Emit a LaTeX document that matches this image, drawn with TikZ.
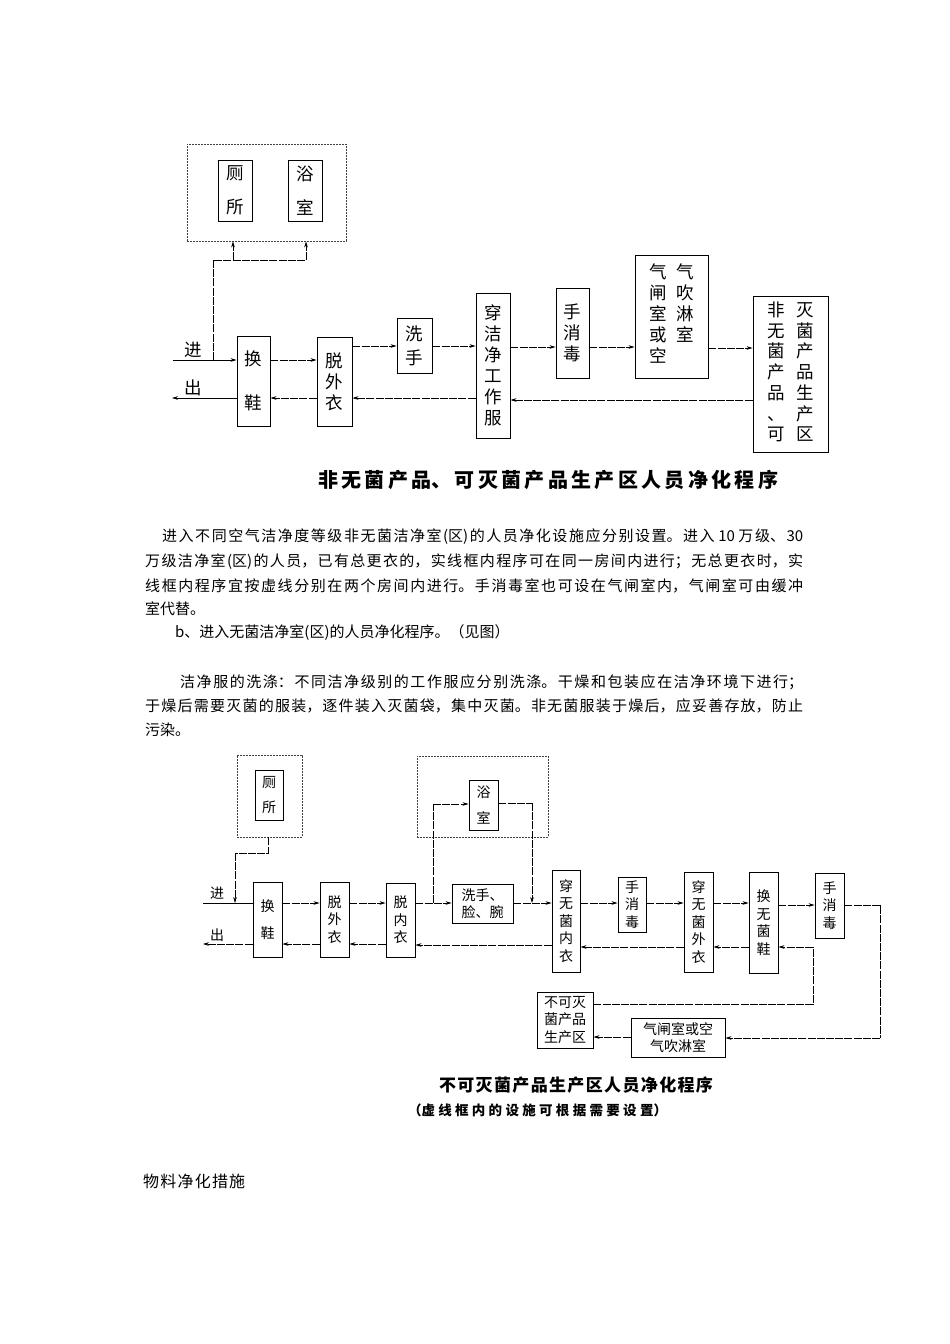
\documentclass[tikz,border=0pt]{standalone}
\usepackage{fontspec}
\setmainfont{Noto Sans CJK SC}
\usetikzlibrary{arrows.meta}
\newcommand\jst[2]{\parbox{#1}{\XeTeXlinebreaklocale "zh"\XeTeXlinebreakskip=0pt plus 12pt\relax\parfillskip=0pt\relax\rightskip=0pt\relax\leftskip=0pt\relax\noindent #2\par}}
\tikzset{
  box/.style={draw, line width=0.9pt, inner sep=0pt, align=center},
  dbox/.style={draw, black!75, dash pattern=on 1.6pt off 1.4pt, line width=0.8pt, inner sep=0pt},
  conn/.style={line width=0.6pt, dash pattern=on 8pt off 1.2pt},
  arr/.style={conn, -{Stealth[length=6pt,width=3.6pt]}},
  ta/.style={font=\fontsize{17.5}{21}\selectfont},
  tb/.style={font=\fontsize{14}{17.5}\selectfont},
  para/.style={font=\fontsize{15}{18}\selectfont, anchor=west, inner sep=0pt},
}
\begin{document}
\begin{tikzpicture}[x=1pt,y=-1pt]
\useasboundingbox[fill=white] (0,0) rectangle (950,1344);

% ================= top diagram =================
\node[dbox, minimum width=159pt, minimum height=97pt] (dash1) at (266.5,192.5) {};
\node[box, ta, minimum width=34pt, minimum height=61pt] (cesuo1) at (235,190.5) {厕\\[13pt]所};
\node[box, ta, minimum width=34pt, minimum height=61pt] (yushi1) at (305,190.5) {浴\\[13pt]室};
\node[box, ta, minimum width=33pt, minimum height=90pt] (huanxie1) at (253.5,381) {换\\[23pt]鞋};
\node[box, ta, minimum width=35pt, minimum height=89pt] (tuowai1) at (334.5,381.5) {脱\\外\\衣};
\node[box, ta, minimum width=35pt, minimum height=55pt] (xishou1) at (414.5,345.5) {洗\\[3pt]手};
\node[box, ta, minimum width=34pt, minimum height=145pt] (chuan1) at (493,365.5) {穿\\洁\\净\\工\\作\\服};
\node[box, ta, minimum width=33pt, minimum height=90pt] (shouxiao1) at (572.5,333) {手\\消\\毒};
\node[box, minimum width=73pt, minimum height=123pt] (qizha1) at (671.5,316.5)
  {\fontsize{17.5}{20.5}\selectfont\begin{tabular}{@{}c@{\hspace{9pt}}c@{}}气&气\\闸&吹\\室&淋\\或&室\\空&\end{tabular}};
\node[box, minimum width=75pt, minimum height=156pt] (zone1) at (790.5,374)
  {\fontsize{17.5}{20}\selectfont\begin{tabular}{@{}c@{\hspace{12pt}}c@{}}非&灭\\无&菌\\菌&产\\产&品\\品&生\\、&产\\可&区\end{tabular}};

\coordinate (in1) at (173,360);
\coordinate (out1) at (172,398);
\coordinate (br1) at (213,360);
\coordinate (br2) at (213,260);
\coordinate (br3) at (306,260);
\coordinate (br4) at (233,260);
\node[ta, inner sep=0pt] (jin1) at (193,350) {进};
\node[ta, inner sep=0pt] (chu1) at (193,388) {出};

\draw[arr, solid] (in1) -- (huanxie1.west |- in1);
\draw[arr, solid] (huanxie1.west |- out1) -- (out1);
\draw[conn] (br1) -- (br2) -- (br3);
\draw[arr] (br4) -- (dash1.south -| br4);
\draw[arr] (br3) -- (dash1.south -| br3);

\draw[arr] (huanxie1.east |- 0,360) -- (tuowai1.west |- 0,360);
\draw[arr] (tuowai1.east |- 0,346) -- (xishou1.west |- 0,346);
\draw[arr] (xishou1.east |- 0,346) -- (chuan1.west |- 0,346);
\draw[arr] (chuan1.east |- 0,347) -- (shouxiao1.west |- 0,347);
\draw[arr] (shouxiao1.east |- 0,347) -- (qizha1.west |- 0,347);
\draw[arr] (qizha1.east |- 0,348) -- (zone1.west |- 0,348);
\draw[arr] (zone1.west |- 0,400) -- (chuan1.east |- 0,400);
\draw[arr] (chuan1.west |- 0,398) -- (tuowai1.east |- 0,398);
\draw[arr] (tuowai1.west |- 0,398) -- (huanxie1.east |- 0,398);

\node[inner sep=0pt, font=\fontsize{20}{23}\selectfont\bfseries] (title1) at (548,480) {\jst{460pt}{非无菌产品、可灭菌产品生产区人员净化程序}};

% ================= paragraphs =================
\node[para] (p1) at (162,537) {\jst{641pt}{进入不同空气洁净度等级非无菌洁净室(区)的人员净化设施应分别设置。进入 10 万级、30}};
\node[para] (p2) at (145,562) {\jst{658pt}{万级洁净室(区)的人员，已有总更衣的，实线框内程序可在同一房间内进行；无总更衣时，实}};
\node[para] (p3) at (145,586) {\jst{658pt}{线框内程序宜按虚线分别在两个房间内进行。手消毒室也可设在气闸室内，气闸室可由缓冲}};
\node[para] (p4) at (145,609) {室代替。};
\node[para] (p5) at (175,633) {b、进入无菌洁净室(区)的人员净化程序。（见图）};
\node[para] (q1) at (180,682) {\jst{623pt}{洁净服的洗涤：不同洁净级别的工作服应分别洗涤。干燥和包装应在洁净环境下进行；}};
\node[para] (q2) at (145,706) {\jst{658pt}{于燥后需要灭菌的服装，逐件装入灭菌袋，集中灭菌。非无菌服装于燥后，应妥善存放，防止}};
\node[para] (q3) at (145,730) {污染。};

% ================= bottom diagram =================
\node[dbox, minimum width=65pt, minimum height=82pt] (dash2a) at (269.5,796) {};
\node[dbox, minimum width=131pt, minimum height=81pt] (dash2b) at (482.5,796.5) {};
\node[box, tb, minimum width=28pt, minimum height=50pt] (cesuo2) at (269,795) {厕\\[7pt]所};
\node[box, tb, minimum width=29pt, minimum height=50pt] (yushi2) at (483.5,805) {浴\\[8pt]室};
\node[box, tb, minimum width=29pt, minimum height=75pt] (huanxie2) at (267.5,919.5) {换\\[10pt]鞋};
\node[box, tb, minimum width=29pt, minimum height=75pt] (tuowai2) at (334.5,919.5) {脱\\外\\衣};
\node[box, tb, minimum width=29pt, minimum height=74pt] (tuonei2) at (400.5,920) {脱\\内\\衣};
\node[box, tb, minimum width=61pt, minimum height=39pt] (xishou2) at (482.5,903.5) {洗手、\\脸、腕};
\node[box, tb, minimum width=28pt, minimum height=102pt] (chuannei2) at (566,921) {穿\\无\\菌\\内\\衣};
\node[box, tb, minimum width=28pt, minimum height=55pt] (shouxiao2a) at (632,904.5) {手\\消\\毒};
\node[box, tb, minimum width=29pt, minimum height=100pt] (chuanwai2) at (698.5,922) {穿\\无\\菌\\外\\衣};
\node[box, tb, minimum width=29pt, minimum height=101pt] (huanwj2) at (763.5,922.5) {换\\无\\菌\\鞋};
\node[box, tb, minimum width=29pt, minimum height=65pt] (shouxiao2b) at (829.5,905.5) {手\\消\\毒};
\node[box, tb, minimum width=94pt, minimum height=39pt] (qizha2) at (678,1037.5) {气闸室或空\\气吹淋室};
\node[box, tb, minimum width=56pt, minimum height=56pt] (zone2) at (565,1020) {不可灭\\菌产品\\生产区};

\coordinate (in2) at (203,903);
\coordinate (out2) at (203,944);
\node[tb, inner sep=0pt] (jin2) at (217,893) {进};
\node[tb, inner sep=0pt] (chu2) at (217,935) {出};

\draw[conn, solid] (in2) -- (huanxie2.west |- in2);
\draw[conn] (dash2a.south -| 268,0) -- (268,853) -- (235,853);
\draw[arr] (235,853) -- (235,903);
\draw[arr] (huanxie2.east |- 0,903) -- (tuowai2.west |- 0,903);
\draw[arr] (tuowai2.east |- 0,903) -- (tuonei2.west |- 0,903);
\draw[arr] (tuonei2.east |- 0,903) -- (xishou2.west |- 0,903);
\coordinate (bb) at (433,903);
\draw[conn] (bb) -- (433,804);
\draw[arr] (433,804) -- (yushi2.west |- 0,804);
\draw[conn] (yushi2.east |- 0,803) -- (532,803);
\draw[arr] (532,803) -- (532,903);
\draw[arr] (xishou2.east |- 0,903) -- (chuannei2.west |- 0,903);
\draw[arr] (chuannei2.east |- 0,903) -- (shouxiao2a.west |- 0,903);
\draw[arr] (shouxiao2a.east |- 0,903) -- (chuanwai2.west |- 0,903);
\draw[arr] (chuanwai2.east |- 0,903) -- (huanwj2.west |- 0,903);
\draw[arr] (huanwj2.east |- 0,905) -- (shouxiao2b.west |- 0,905);

\draw[arr] (huanwj2.west |- 0,947) -- (chuanwai2.east |- 0,947);
\draw[arr] (chuanwai2.west |- 0,947) -- (chuannei2.east |- 0,947);
\draw[arr] (chuannei2.west |- 0,945) -- (tuonei2.east |- 0,945);
\draw[arr] (tuonei2.west |- 0,944) -- (tuowai2.east |- 0,944);
\draw[arr] (tuowai2.west |- 0,944) -- (huanxie2.east |- 0,944);
\draw[arr] (huanxie2.west |- out2) -- (out2);

\draw[conn] (shouxiao2b.east |- 0,905) -- (880,905) -- (880,1038);
\draw[arr] (880,1038) -- (qizha2.east |- 0,1038);
\draw[arr] (qizha2.west |- 0,1037) -- (zone2.east |- 0,1037);
\draw[conn] (zone2.east |- 0,1004) -- (813,1004) -- (813,947);
\draw[arr] (813,947) -- (huanwj2.east |- 0,947);

\node[inner sep=0pt, font=\fontsize{17}{20}\selectfont\bfseries] (title2) at (576,1085) {\jst{274pt}{不可灭菌产品生产区人员净化程序}};
\node[inner sep=0pt, font=\fontsize{13.5}{16}\selectfont\bfseries] (sub2) at (537.5,1110) {\jst{259pt}{（虚线框内的设施可根据需要设置）}};

\node[para, font=\fontsize{16}{19}\selectfont] (wuliao) at (143,1181) {\jst{102pt}{物料净化措施}};
\end{tikzpicture}
\end{document}
